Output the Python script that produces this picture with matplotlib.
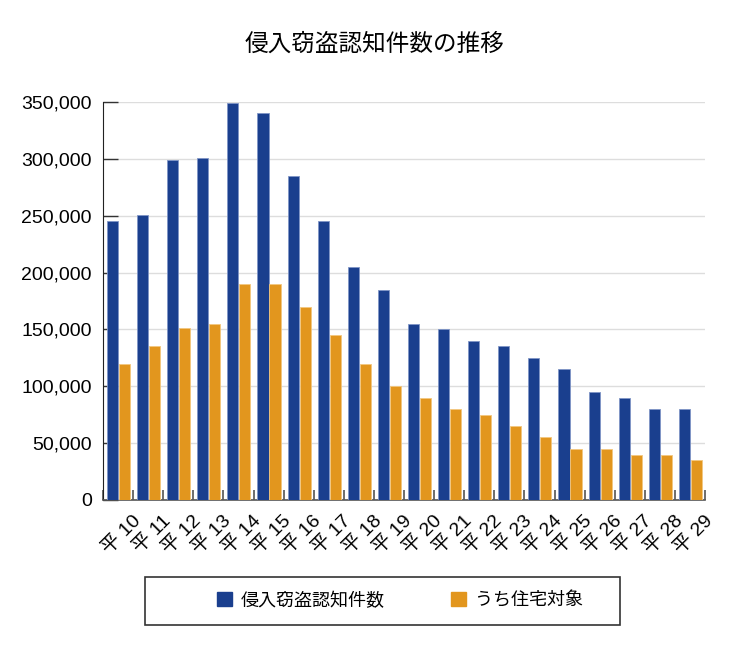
import numpy as np
import matplotlib.pyplot as plt
from matplotlib.patches import Patch, Rectangle
from matplotlib.ticker import MultipleLocator, FuncFormatter
from matplotlib.transforms import ScaledTranslation

plt.rcParams['font.family'] = ['Liberation Sans', 'Noto Sans CJK JP', 'DejaVu Sans']

years = ['平 10', '平 11', '平 12', '平 13', '平 14', '平 15', '平 16', '平 17', '平 18', '平 19',
         '平 20', '平 21', '平 22', '平 23', '平 24', '平 25', '平 26', '平 27', '平 28', '平 29']
total = [245000, 251000, 299000, 301000, 349000, 340000, 285000, 245000, 205000, 185000,
         155000, 150000, 140000, 135000, 125000, 115000, 95000, 90000, 80000, 80000]
house = [120000, 135000, 151000, 155000, 190000, 190000, 170000, 145000, 120000, 100000,
         90000, 80000, 75000, 65000, 55000, 45000, 45000, 40000, 40000, 35000]

blue = '#1a3f8e'
orange = '#e2961e'

fig = plt.figure(figsize=(7.5, 6.5), dpi=100)
ax = fig.add_axes([103/750, 1 - 500/650, 602/750, 398/650])

x = np.arange(len(years))
w = 0.37
ax.bar(x - 0.185, total, w, color=blue, edgecolor='#7f95c6', linewidth=0.6, zorder=3)
ax.bar(x + 0.215, house, w, color=orange, edgecolor='#f3c77f', linewidth=0.6, zorder=3)

ax.set_xlim(-0.5, len(years) - 0.5)
ax.set_ylim(0, 350000)
ax.yaxis.set_major_locator(MultipleLocator(50000))
ax.yaxis.set_major_formatter(FuncFormatter(lambda v, p: f'{int(v):,}'))
ax.grid(axis='y', color='#dddddd', linewidth=1, zorder=0)

for s in ['top', 'right']:
    ax.spines[s].set_visible(False)
ax.spines['left'].set_color('#222222')
ax.spines['bottom'].set_color('#555555')
ax.spines['bottom'].set_linewidth(1.2)

ax.tick_params(axis='y', direction='in', length=11, width=1, color='#333333',
               labelsize=14, pad=8)
ax.set_xticks(np.arange(len(years) + 1) - 0.5)
ax.set_xticklabels([])
ax.tick_params(axis='x', which='major', direction='in', length=7, width=1.2, color='#555555')
ax.set_xticks(x, minor=True)
ax.set_xticklabels(years, minor=True, rotation=45, ha='right', va='top',
                   rotation_mode='anchor', fontsize=14)
ax.tick_params(axis='x', which='minor', length=0, pad=9)
shift = ScaledTranslation(14/100, 0, fig.dpi_scale_trans)
for lab in ax.get_xticklabels(minor=True):
    lab.set_transform(lab.get_transform() + shift)

fig.text(0.5, 1 - 45/650, '侵入窃盗認知件数の推移', ha='center', va='center', fontsize=17)

fig.patches.append(Rectangle((145/750, 1 - 625/650), 475/750, 48/650,
                             transform=fig.transFigure, fill=False,
                             edgecolor='#333333', linewidth=1.2))
handles = [Patch(color=blue, label='侵入窃盗認知件数'),
           Patch(color=orange, label='うち住宅対象')]
fig.legend(handles=handles, loc='center', bbox_to_anchor=(400/750, 1 - 601/650),
           ncol=2, frameon=False, fontsize=13, handlelength=0.8, handleheight=0.8,
           handletextpad=0.5, columnspacing=3.7)

plt.savefig('out.png')
